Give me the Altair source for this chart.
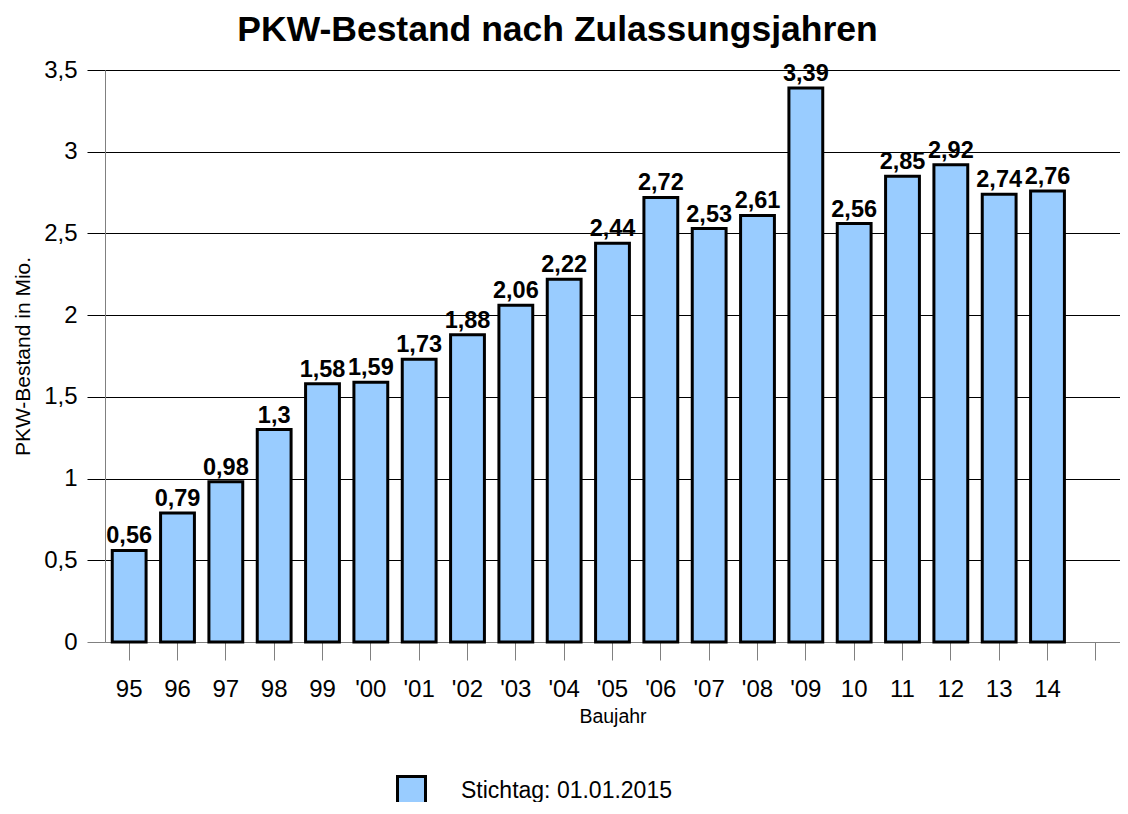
import altair as alt
import pandas as pd

# --- data ---
years = ["95", "96", "97", "98", "99", "'00", "'01", "'02", "'03", "'04",
         "'05", "'06", "'07", "'08", "'09", "10", "11", "12", "13", "14"]
values = [0.56, 0.79, 0.98, 1.3, 1.58, 1.59, 1.73, 1.88, 2.06, 2.22,
          2.44, 2.72, 2.53, 2.61, 3.39, 2.56, 2.85, 2.92, 2.74, 2.76]
series_name = "Stichtag: 01.01.2015"
y_ticks = [0, 0.5, 1, 1.5, 2, 2.5, 3, 3.5]
x_domain = years + ["~"]  # one empty slot at the right, as in the reference

df = pd.DataFrame({"jahr": years, "wert": values, "serie": [series_name] * len(years)})

FONT = "Liberation Sans"

x_enc = alt.X(
    "jahr:N",
    sort=x_domain,
    scale=alt.Scale(domain=x_domain, paddingInner=0.3, paddingOuter=0.15),
    axis=alt.Axis(
        title="Baujahr",
        titleFont=FONT, titleFontSize=19.5, titleFontWeight="normal", titleColor="black",
        titlePadding=6,
        labelFont=FONT, labelFontSize=24, labelColor="black", labelAngle=0,
        labelPadding=17,
        labelExpr="datum.value == '~' ? '' : datum.value",
        tickSize=18, tickColor="#808080", tickWidth=1,
        domainColor="#808080", domainWidth=1,
        grid=False,
    ),
)

y_enc = alt.Y(
    "wert:Q",
    scale=alt.Scale(domain=[0, 3.5], nice=False, zero=True),
    axis=alt.Axis(
        title="PKW-Bestand in Mio.",
        titleFont=FONT, titleFontSize=21, titleFontWeight="normal", titleColor="black",
        titlePadding=10,
        values=y_ticks,
        labelExpr="replace(toString(datum.value), '.', ',')",
        labelFont=FONT, labelFontSize=24, labelColor="black", labelPadding=10,
        tickSize=18,
        tickColor={"condition": {"test": "datum.value === 0", "value": "#808080"}, "value": "black"},
        grid=True,
        gridColor={"condition": {"test": "datum.value === 0", "value": "#808080"}, "value": "black"},
        gridWidth=1,
        domainColor="#808080", domainWidth=1,
    ),
)

base = alt.Chart(df).transform_calculate(
    label="replace(toString(datum.wert), '.', ',')"
)

bars = base.mark_bar(stroke="black", strokeWidth=3, opacity=1).encode(
    x=x_enc,
    y=y_enc,
    color=alt.Color(
        "serie:N",
        scale=alt.Scale(range=["#99ccff"]),
        legend=alt.Legend(
            title=None,
            orient="none",
            legendX=291,
            legendY=705,
            padding=0,
            symbolType="square",
            symbolSize=784,
            symbolStrokeColor="black",
            symbolStrokeWidth=3,
            symbolOpacity=1,
            labelFont=FONT,
            labelFontSize=23,
            labelColor="black",
            labelOffset=34,
            labelLimit=500,
            labelBaseline="middle",
        ),
    ),
)

labels = base.mark_text(
    font=FONT, fontSize=23.5, fontWeight="bold", color="black",
    baseline="alphabetic", dy=-7,
).encode(x=x_enc, y=y_enc, text="label:N")

chart = (
    alt.layer(bars, labels)
    .properties(
        width=1015,
        height=572,
        autosize=alt.AutoSizeParams(type="none"),
        padding={"left": 97, "top": 62, "right": 0, "bottom": 160},
        title=alt.TitleParams(
            "PKW-Bestand nach Zulassungsjahren",
            font=FONT, fontSize=35.5, fontWeight="bold", color="black",
            anchor="middle", frame="group", dx=-55, offset=21, dy=39,
            baseline="alphabetic",
        ),
    )
    .configure_view(stroke=None)
    .configure(background="white")
)

chart.save("out.html", embed_options={"renderer": "svg", "actions": False})
